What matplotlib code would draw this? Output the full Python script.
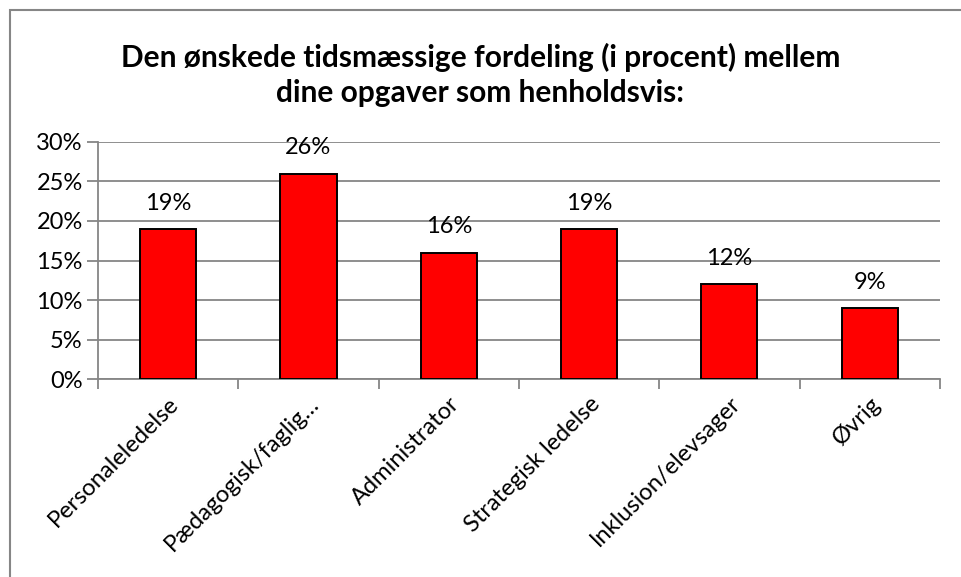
import matplotlib
matplotlib.use("Agg")
import matplotlib.pyplot as plt
from matplotlib.patches import Rectangle
from matplotlib.ticker import FuncFormatter, MultipleLocator

categories = ["Personaleledelse", "Pædagogisk/faglig…", "Administrator",
              "Strategisk ledelse", "Inklusion/elevsager", "Øvrig"]
shares = [19, 26, 16, 19, 12, 9]
title = ("Den ønskede tidsmæssige fordeling (i procent) mellem\n"
         "dine opgaver som henholdsvis:")

plt.rcParams["font.family"] = ["Lato", "DejaVu Sans"]
grey = "#868686"

fig = plt.figure(figsize=(9.61, 5.77), dpi=100)
ax = fig.add_axes([0.102, 0.343, 0.876, 0.411])

x = list(range(len(categories)))
ax.bar(x, shares, width=0.4, color="#ff0000", edgecolor="black", linewidth=1.4, zorder=3)
for xi, v in zip(x, shares):
    ax.annotate(f"{v}%", (xi, v), xytext=(0, 11), textcoords="offset points",
                ha="center", va="bottom", fontsize=17)

ax.set_xlim(-0.5, len(categories) - 0.5)
ax.set_ylim(0, 30)
ax.yaxis.set_major_locator(MultipleLocator(5))
ax.yaxis.set_major_formatter(FuncFormatter(lambda v, _: f"{v:.0f}%"))
ax.grid(axis="y", color=grey, linewidth=1.3, zorder=0)
ax.set_axisbelow(True)

# ticks sit between categories, labels at the category centres
ax.set_xticks([i - 0.5 for i in range(len(categories) + 1)])
ax.set_xticklabels([])
ax.set_xticks(x, minor=True)
ax.set_xticklabels(categories, minor=True, rotation=45, ha="right",
                   rotation_mode="anchor", fontsize=17)
ax.tick_params(axis="x", which="minor", length=0, pad=10)
ax.tick_params(axis="x", which="major", length=7, color=grey, width=1.3)
ax.tick_params(axis="y", length=8, color=grey, width=1.3, labelsize=17, pad=3)

for side in ["top", "right"]:
    ax.spines[side].set_visible(False)
for side in ["left", "bottom"]:
    ax.spines[side].set_color(grey)
    ax.spines[side].set_linewidth(1.3)

fig.text(0.5, 0.87, title, ha="center", va="center", fontsize=21.5,
         fontweight="bold", linespacing=1.3)

# chart frame, only left and top edges fall inside the picture
fig.patches.append(Rectangle((10 / 961, -0.1), 1.2, 1.1 - 10 / 577,
                             transform=fig.transFigure, fill=False,
                             edgecolor=grey, linewidth=1.5))

fig.savefig("out.png", dpi=100)
